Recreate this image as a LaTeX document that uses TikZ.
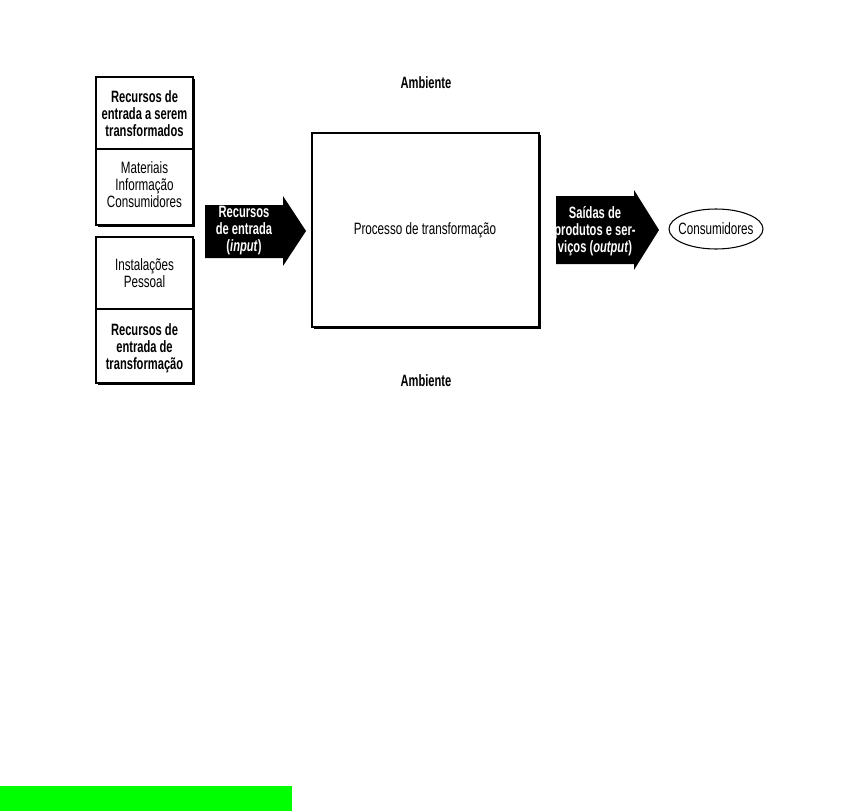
\documentclass[tikz,border=0pt]{standalone}
\usepackage{fontspec}
\setmainfont{Liberation Sans}[
    FakeStretch=0.71,
    BoldFeatures={FakeStretch=0.68},
    BoldItalicFeatures={FakeStretch=0.68}
]
\usepackage{tikz}
\usetikzlibrary{
    shapes.geometric,
    shadows
}
\definecolor{barGreen}{RGB}{0,255,0}

\begin{document}
\begin{tikzpicture}[
    x=0.03cm,
    y=-0.03cm,
    font=\fontsize{14}{14.5}\selectfont,
    boxline/.style={
        draw=black,
        line width=0.9pt,
        fill=white,
        drop shadow={
            shadow xshift=1.4pt,
            shadow yshift=-1.4pt,
            fill=black,
            opacity=1
        }
    },
    boxtext/.style={
        align=center,
        inner sep=0pt
    },
    boldtext/.style={
        boxtext,
        font=\fontsize{14}{14.5}\selectfont\bfseries
    },
    arrowtext/.style={
        boldtext,
        text=white
    }
]

\useasboundingbox (0,0) rectangle (841,811);

% =============================================================
% Input resources (left column)
% =============================================================

% Resources to be transformed
\draw[boxline] (96,77) rectangle (193,225);
\draw[line width=0.9pt] (96,149) -- (193,149);

\node[boldtext] (topHead) at (144.5,114)
{Recursos de\\entrada a serem\\transformados};

\node[boxtext] (topList) at (144.5,185)
{Materiais\\Informação\\Consumidores};

% Transforming resources
\draw[boxline] (96,237) rectangle (193,383);
\draw[line width=0.9pt] (96,309) -- (193,309);

\node[boxtext] (botList) at (144.5,273)
{Instalações\\Pessoal};

\node[boldtext] (botHead) at (144.5,348)
{Recursos de\\entrada de\\transformação};

% =============================================================
% Input arrow
% =============================================================
\fill[black]
    (205,205)
    -- (283,205)
    -- (283,196)
    -- (306,231)
    -- (283,266)
    -- (283,258)
    -- (205,258)
    -- cycle;

\node[arrowtext] (inArrow) at (244,231)
{Recursos\\de entrada\\(\textit{input})};

% =============================================================
% Transformation process
% =============================================================
\draw[boxline] (312,133) rectangle (539,327);

\node[boxtext] (process) at (425,230)
{Processo de transformação};

\node[boldtext] (envTop) at (426,83) {Ambiente};

\node[boldtext] (envBot) at (426,381) {Ambiente};

% =============================================================
% Output arrow and consumers
% =============================================================
\fill[black]
    (556,196)
    -- (634,196)
    -- (634,190)
    -- (659,230)
    -- (634,270)
    -- (634,264)
    -- (556,264)
    -- cycle;

\node[arrowtext] (outArrow) at (595,231)
{Saídas de\\produtos e ser-\\viços (\textit{output})};

\node[
    draw=black,
    line width=0.9pt,
    ellipse,
    inner xsep=-4pt,
    inner ysep=0pt,
    minimum width=2.82cm,
    minimum height=1.2cm
] (consumers) at (716,229)
{Consumidores};

% green bar
\fill[barGreen] (0,786) rectangle (292,811);

\end{tikzpicture}
\end{document}
